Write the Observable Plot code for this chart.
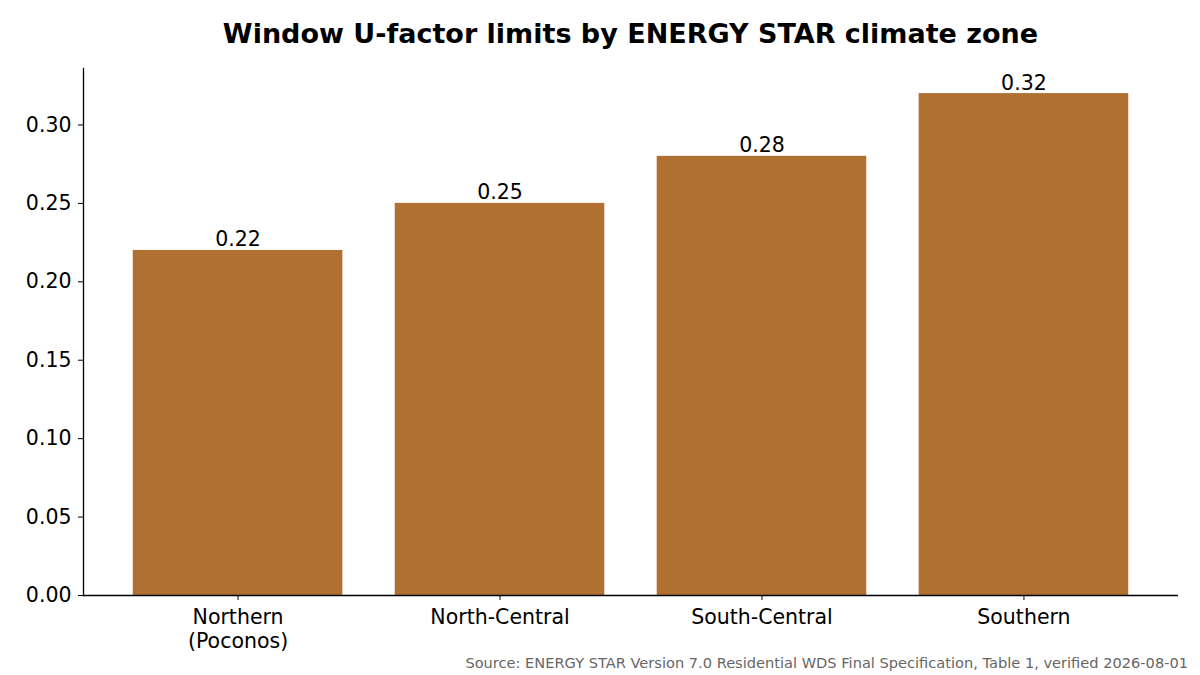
<!DOCTYPE html>
<html>
<head>
<meta charset="utf-8">
<script src="https://cdn.jsdelivr.net/npm/d3@7"></script>
<script src="https://cdn.jsdelivr.net/npm/@observablehq/plot@0.6"></script>
<style>
  html, body { margin: 0; padding: 0; background: #fff; }
  #wrap { position: relative; width: 1200px; height: 675px; font-family: "DejaVu Sans", sans-serif; }
  #title { position: absolute; left: 83px; width: 1095px; top: 17px; line-height: 34px; text-align: center; font-weight: bold; font-size: 27px; color: #000; }
  #source { position: absolute; right: 12px; top: 653px; line-height: 20px; font-size: 14.6px; color: #666; }
  #chart { position: absolute; left: 0; top: 0; }
</style>
</head>
<body>
<div id="wrap">
  <div id="chart"></div>
  <div id="title">Window U-factor limits by ENERGY STAR climate zone</div>
  <div id="source">Source: ENERGY STAR Version 7.0 Residential WDS Final Specification, Table 1, verified 2026-08-01</div>
</div>
<script>
const zones = ["Northern\n(Poconos)", "North-Central", "South-Central", "Southern"];
const uFactor = [0.22, 0.25, 0.28, 0.32];
const yTicks = [0, 0.05, 0.10, 0.15, 0.20, 0.25, 0.30];

const data = zones.map((z, i) => ({zone: z, value: uFactor[i]}));
const barColor = "#b07032";

const chart = Plot.plot({
  width: 1200,
  height: 675,
  marginLeft: 83,
  marginRight: 22,
  marginTop: 68,
  marginBottom: 80,
  style: {fontFamily: "DejaVu Sans, sans-serif", fontSize: "20.5px", color: "#000", background: "#fff"},
  x: {domain: zones, paddingInner: 0.2, paddingOuter: 0.19, round: false, label: null},
  y: {domain: [0, 0.336], label: null},
  marks: [
    Plot.barY(data, {x: "zone", y: "value", fill: barColor}),
    Plot.text(data, {x: "zone", y: "value", text: d => d.value.toFixed(2), lineAnchor: "bottom", dy: -4, fontSize: 20.5, fill: "#000"}),
    Plot.axisY({ticks: yTicks, tickFormat: d => d.toFixed(2), tickSize: 5, tickPadding: 7, fontSize: 20.5, label: null, stroke: "#000"}),
    Plot.axisX({tickSize: 5, tickPadding: 7, fontSize: 20.5, label: null, lineHeight: 1.15}),
    Plot.frame({anchor: "left", stroke: "#000", strokeWidth: 1.3}),
    Plot.ruleY([0], {stroke: "#000", strokeWidth: 1.3})
  ]
});
document.getElementById("chart").appendChild(chart);
</script>
</body>
</html>
